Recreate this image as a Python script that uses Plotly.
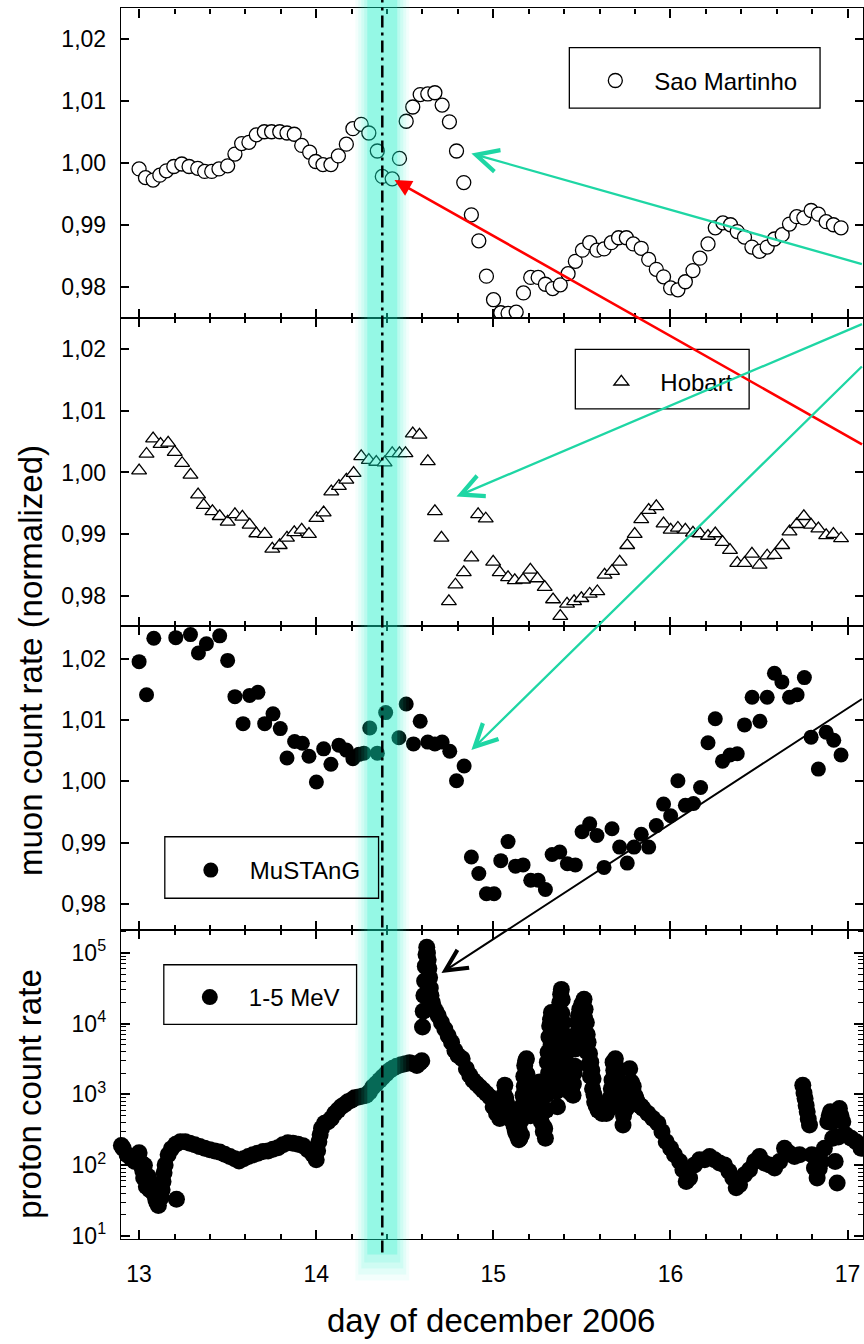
import math
import plotly.graph_objects as go

FONT = "Liberation Sans, Arial, Helvetica, sans-serif"

# ---------------- data ----------------
# Sao Martinho muon monitor, normalized hourly count rate
sao_day = [13.000, 13.036, 13.079, 13.117, 13.154, 13.196, 13.241, 13.282, 13.331, 13.370,
           13.410, 13.451, 13.500, 13.541, 13.579, 13.620, 13.662, 13.707, 13.748, 13.794,
           13.835, 13.876, 13.918, 13.963, 13.997, 14.038, 14.083, 14.125, 14.170, 14.207,
           14.254, 14.297, 14.345, 14.373, 14.429, 14.470, 14.508, 14.545, 14.587, 14.630,
           14.670, 14.711, 14.752, 14.792, 14.833, 14.876, 14.918, 14.961, 15.001, 15.042,
           15.083, 15.129, 15.170, 15.211, 15.253, 15.294, 15.335, 15.378, 15.422, 15.463,
           15.503, 15.544, 15.585, 15.625, 15.666, 15.707, 15.751, 15.790, 15.835, 15.877,
           15.920, 15.961, 16.001, 16.042, 16.084, 16.127, 16.166, 16.212, 16.253, 16.296,
           16.339, 16.377, 16.418, 16.460, 16.503, 16.546, 16.587, 16.631, 16.672, 16.713,
           16.753, 16.794, 16.835, 16.879, 16.920, 16.963]
sao_rate = [0.9990, 0.9976, 0.9972, 0.9980, 0.9987, 0.9994, 0.9998, 0.9994, 0.9991, 0.9986,
            0.9986, 0.9990, 0.9995, 1.0014, 1.0031, 1.0033, 1.0045, 1.0050, 1.0050, 1.0050,
            1.0048, 1.0046, 1.0028, 1.0017, 1.0002, 0.9997, 0.9997, 1.0011, 1.0030, 1.0055,
            1.0062, 1.0048, 1.0019, 0.9978, 0.9974, 1.0007, 1.0067, 1.0090, 1.0110, 1.0111,
            1.0113, 1.0093, 1.0066, 1.0019, 0.9968, 0.9916, 0.9874, 0.9817, 0.9779, 0.9758,
            0.9757, 0.9759, 0.9790, 0.9815, 0.9815, 0.9804, 0.9797, 0.9803, 0.9821, 0.9841,
            0.9859, 0.9871, 0.9859, 0.9861, 0.9871, 0.9879, 0.9879, 0.9869, 0.9862, 0.9844,
            0.9828, 0.9816, 0.9798, 0.9795, 0.9808, 0.9826, 0.9846, 0.9869, 0.9895, 0.9903,
            0.9900, 0.9889, 0.9880, 0.9864, 0.9857, 0.9864, 0.9877, 0.9884, 0.9901, 0.9913,
            0.9911, 0.9923, 0.9917, 0.9905, 0.9900, 0.9895]

# Hobart muon telescope
hob_day = [13.000, 13.042, 13.079, 13.121, 13.164, 13.201, 13.243, 13.290, 13.333, 13.365,
           13.414, 13.455, 13.500, 13.541, 13.583, 13.624, 13.662, 13.709, 13.752, 13.794,
           13.835, 13.876, 13.918, 13.959, 14.001, 14.042, 14.085, 14.128, 14.170, 14.211,
           14.254, 14.297, 14.339, 14.386, 14.429, 14.470, 14.504, 14.545, 14.583, 14.630,
           14.670, 14.707, 14.749, 14.786, 14.833, 14.876, 14.914, 14.957, 14.999, 15.036,
           15.083, 15.121, 15.168, 15.209, 15.249, 15.290, 15.337, 15.378, 15.416, 15.456,
           15.497, 15.544, 15.587, 15.628, 15.670, 15.713, 15.756, 15.798, 15.835, 15.877,
           15.920, 15.961, 16.001, 16.042, 16.084, 16.127, 16.166, 16.212, 16.253, 16.294,
           16.336, 16.377, 16.418, 16.460, 16.503, 16.546, 16.587, 16.631, 16.672, 16.713,
           16.753, 16.794, 16.835, 16.879, 16.920, 16.963]
hob_rate = [1.0003, 1.0030, 1.0055, 1.0046, 1.0048, 1.0033, 1.0015, 0.9996, 0.9964, 0.9947,
            0.9937, 0.9929, 0.9920, 0.9932, 0.9928, 0.9915, 0.9901, 0.9900, 0.9876, 0.9882,
            0.9894, 0.9903, 0.9907, 0.9900, 0.9926, 0.9935, 0.9969, 0.9978, 0.9988, 0.9999,
            1.0026, 1.0020, 1.0017, 1.0016, 1.0031, 1.0031, 1.0031, 1.0063, 1.0061, 1.0018,
            0.9937, 0.9894, 0.9791, 0.9818, 0.9838, 0.9862, 0.9932, 0.9925, 0.9855, 0.9838,
            0.9830, 0.9825, 0.9826, 0.9842, 0.9828, 0.9814, 0.9794, 0.9767, 0.9787, 0.9791,
            0.9796, 0.9803, 0.9807, 0.9834, 0.9840, 0.9855, 0.9882, 0.9900, 0.9924, 0.9939,
            0.9945, 0.9917, 0.9907, 0.9910, 0.9907, 0.9902, 0.9901, 0.9897, 0.9901, 0.9887,
            0.9874, 0.9853, 0.9853, 0.9868, 0.9850, 0.9865, 0.9866, 0.9882, 0.9904, 0.9916,
            0.9929, 0.9915, 0.9909, 0.9898, 0.9900, 0.9893]

# MuSTAnG muon telescope
mus_day = [13.000, 13.042, 13.083, 13.207, 13.290, 13.335, 13.380, 13.455, 13.500, 13.541,
           13.587, 13.624, 13.671, 13.709, 13.756, 13.797, 13.835, 13.878, 13.922, 13.959,
           14.001, 14.042, 14.083, 14.128, 14.170, 14.207, 14.241, 14.269, 14.302, 14.345,
           14.392, 14.467, 14.508, 14.549, 14.587, 14.630, 14.670, 14.711, 14.754, 14.792,
           14.835, 14.876, 14.918, 14.961, 15.004, 15.042, 15.083, 15.125, 15.168, 15.211,
           15.253, 15.294, 15.332, 15.375, 15.418, 15.463, 15.501, 15.544, 15.585, 15.625,
           15.670, 15.713, 15.756, 15.794, 15.835, 15.877, 15.920, 15.961, 16.001, 16.042,
           16.084, 16.130, 16.170, 16.212, 16.253, 16.294, 16.336, 16.377, 16.418, 16.461,
           16.505, 16.546, 16.587, 16.629, 16.672, 16.715, 16.756, 16.794, 16.835, 16.879,
           16.922, 16.963]
mus_rate = [1.0195, 1.0141, 1.0233, 1.0234, 1.0239, 1.0209, 1.0224, 1.0237, 1.0197, 1.0138,
            1.0094, 1.0140, 1.0145, 1.0094, 1.0110, 1.0086, 1.0038, 1.0065, 1.0062, 1.0041,
            0.9999, 1.0053, 1.0028, 1.0059, 1.0051, 1.0037, 1.0044, 1.0046, 1.0087, 1.0046,
            1.0112, 1.0071, 1.0126, 1.0061, 1.0098, 1.0064, 1.0061, 1.0064, 1.0049, 1.0001,
            1.0025, 0.9877, 0.9850, 0.9817, 0.9817, 0.9871, 0.9902, 0.9862, 0.9864, 0.9839,
            0.9839, 0.9824, 0.9881, 0.9885, 0.9866, 0.9864, 0.9918, 0.9931, 0.9912, 0.9860,
            0.9923, 0.9893, 0.9867, 0.9893, 0.9914, 0.9893, 0.9928, 0.9963, 0.9944, 1.0001,
            0.9961, 0.9964, 0.9990, 1.0063, 1.0102, 1.0033, 1.0043, 1.0045, 1.0092, 1.0137,
            1.0098, 1.0137, 1.0176, 1.0162, 1.0137, 1.0141, 1.0169, 1.0072, 1.0020, 1.0080,
            1.0067, 1.0043]

# 1-5 MeV proton count rate (main trace)
proton_day = [
    12.887, 12.910, 12.932, 12.957, 12.976, 12.994, 13.013, 13.020, 13.026, 13.041,
    13.060, 13.079, 13.094, 13.109, 13.124, 13.130, 13.135, 13.141, 13.147, 13.164,
    13.182, 13.207, 13.211, 13.233, 13.260, 13.286, 13.314, 13.342, 13.370, 13.399,
    13.427, 13.455, 13.483, 13.512, 13.540, 13.564, 13.590, 13.617, 13.643, 13.671,
    13.700, 13.728, 13.756, 13.784, 13.812, 13.840, 13.869, 13.897, 13.925, 13.953,
    13.982, 14.000, 14.008, 14.015, 14.022, 14.030, 14.047, 14.066, 14.085, 14.104,
    14.123, 14.141, 14.160, 14.179, 14.198, 14.217, 14.241, 14.264, 14.282, 14.301,
    14.320, 14.339, 14.358, 14.376, 14.395, 14.414, 14.433, 14.455, 14.480, 14.504,
    14.527, 14.549, 14.568, 14.585, 14.596, 14.600, 14.604, 14.608, 14.612, 14.616,
    14.620, 14.624, 14.628, 14.632, 14.636, 14.640, 14.644, 14.648, 14.655, 14.662,
    14.675, 14.689, 14.707, 14.726, 14.745, 14.764, 14.783, 14.801, 14.824, 14.848,
    14.867, 14.886, 14.905, 14.924, 14.942, 14.961, 14.980, 14.999, 15.018, 15.036,
    15.055, 15.065, 15.070, 15.083, 15.090, 15.102, 15.110, 15.121, 15.130, 15.144,
    15.150, 15.159, 15.163, 15.168, 15.172, 15.177, 15.182, 15.187, 15.191, 15.196,
    15.205, 15.215, 15.222, 15.234, 15.240, 15.249, 15.255, 15.262, 15.266, 15.271,
    15.282, 15.294, 15.300, 15.305, 15.309, 15.314, 15.318, 15.323, 15.328, 15.335,
    15.343, 15.350, 15.356, 15.362, 15.366, 15.370, 15.375, 15.380, 15.384, 15.389,
    15.394, 15.398, 15.403, 15.410, 15.418, 15.431, 15.440, 15.450, 15.456, 15.463,
    15.468, 15.474, 15.481, 15.488, 15.500, 15.512, 15.518, 15.525, 15.530, 15.535,
    15.543, 15.550, 15.556, 15.563, 15.572, 15.591, 15.614, 15.638, 15.657, 15.666,
    15.676, 15.689, 15.697, 15.704, 15.715, 15.732, 15.751, 15.760, 15.770, 15.779,
    15.798, 15.817, 15.845, 15.873, 15.901, 15.929, 15.952, 15.976, 16.001, 16.023,
    16.052, 16.070, 16.089, 16.108, 16.136, 16.164, 16.193, 16.221, 16.249, 16.277,
    16.305, 16.330, 16.352, 16.371, 16.390, 16.418, 16.446, 16.475, 16.503, 16.531,
    16.559, 16.588, 16.616, 16.644, 16.672, 16.700, 16.729, 16.747, 16.754, 16.760,
    16.766, 16.772, 16.778, 16.785, 16.798, 16.813, 16.828, 16.840, 16.851, 16.869,
    16.888, 16.896, 16.903, 16.910, 16.916, 16.930, 16.941, 16.948, 16.954, 16.963,
    16.973, 16.992, 17.020, 17.048, 17.076]
proton_rate = [
    215, 174, 140, 123, 113, 123, 107, 85, 66, 50,
    45, 41, 33, 27, 35, 45, 59, 78, 101, 140,
    170, 198, 33, 215, 215, 204, 194, 183, 174, 165,
    159, 153, 143, 133, 123, 115, 123, 133, 140, 148,
    156, 159, 168, 177, 194, 208, 204, 198, 189, 165,
    140, 119, 160, 215, 270, 332, 390, 411, 458, 539,
    600, 668, 719, 785, 828, 894, 923, 953, 973, 1080,
    1270, 1420, 1580, 1760, 1960, 2180, 2350, 2510, 2620, 2710,
    2800, 2710, 2570, 2800, 3000, 9000, 15000, 25000, 40000, 65000,
    95000, 120000, 100000, 80000, 60000, 45000, 32000, 25000, 20000, 17000,
    15000, 12900, 10400, 8400, 6770, 5460, 4170, 3550, 3190, 2300,
    1860, 1580, 1420, 1270, 1150, 1030, 923, 668, 539, 458,
    743, 1350, 900, 668, 560, 511, 420, 332, 280, 228,
    240, 267, 500, 973, 1800, 2570, 3000, 3190, 1900, 1210,
    800, 633, 700, 1080, 900, 1350, 1200, 1500, 700, 411,
    300, 240, 1500, 2860, 3950, 6500, 9360, 11500, 14400, 9000,
    6080, 1670, 1100, 668, 2500, 8000, 19900, 26000, 30500, 22000,
    10400, 7000, 4400, 3000, 2070, 1080, 1100, 973, 2000, 4400,
    7000, 10400, 13000, 16000, 19000, 22100, 16000, 10400, 7000, 5460,
    3800, 2860, 2200, 1670, 785, 600, 539, 539, 633, 1200,
    2860, 3190, 2400, 1670, 785, 369, 633, 1100, 2300, 1500,
    973, 743, 633, 539, 458, 390, 298, 215, 174, 140,
    113, 86, 59, 66, 101, 119, 119, 133, 119, 107,
    101, 82, 66, 48, 53, 73, 86, 113, 133, 107,
    101, 91, 113, 174, 148, 133, 140, 1350, 1050, 875,
    700, 568, 450, 369, 140, 91, 66, 90, 113, 174,
    411, 500, 568, 400, 240, 113, 56, 250, 633, 500,
    411, 267, 240, 215, 174]

# further proton samples inside the noisy stretch of 15-16 December
proton_day_scatter = [
    12.900, 13.000, 13.030, 13.050, 13.070, 13.100,
    15.045, 15.060, 15.075, 15.095, 15.115, 15.125, 15.138, 15.145, 15.155, 15.165,
    15.175, 15.185, 15.195, 15.200, 15.210, 15.220, 15.228, 15.236, 15.245, 15.258,
    15.268, 15.275, 15.285, 15.290, 15.298, 15.302, 15.312, 15.320, 15.326, 15.332,
    15.338, 15.345, 15.352, 15.358, 15.368, 15.374, 15.386, 15.392, 15.400, 15.406,
    15.414, 15.422, 15.428, 15.436, 15.445, 15.452, 15.460, 15.470, 15.478, 15.485,
    15.493, 15.505, 15.515, 15.522, 15.528, 15.538, 15.548, 15.560, 15.568, 15.580,
    15.600, 15.620, 15.640, 15.660, 15.670, 15.680, 15.690, 15.700, 15.710, 15.720,
    15.735, 15.745, 15.755, 15.765, 15.775, 15.785, 15.790, 15.805, 15.810, 15.825,
    15.835]
proton_rate_scatter = [
    190, 150, 100, 70, 55, 30,
    600, 1000, 750, 450, 380, 300, 250, 330, 420, 700,
    1300, 2000, 900, 600, 500, 900, 1300, 800, 600, 900,
    1000, 550, 350, 330, 600, 1000, 2000, 3000, 5000, 4000,
    3000, 2500, 3000, 2000, 4500, 12000, 14000, 5500, 2500, 1700,
    1400, 1800, 2500, 1600, 1300, 1400, 2500, 4500, 6000, 9000,
    12000, 14000, 12000, 6000, 4000, 2600, 1800, 1200, 1000, 700,
    750, 680, 620, 900, 1600, 2200, 1900, 1300, 1100, 650,
    500, 700, 900, 1400, 1200, 1000, 1300, 900, 800, 700,
    680]
assert len(proton_day) == len(proton_rate)
assert len(proton_day_scatter) == len(proton_rate_scatter)

x_ticks = [13, 14, 15, 16, 17]
log_ticks = [1e1, 1e2, 1e3, 1e4, 1e5]
log_tick_text = ["10<sup>1</sup>", "10<sup>2</sup>", "10<sup>3</sup>",
                 "10<sup>4</sup>", "10<sup>5</sup>"]

EVENT_DAY = 14.373          # time marked by the shaded band and dash-dot line

# ---------------- page geometry (pixels) ----------------
W, H = 864, 1344
PLOT_LEFT = 121
X_RANGE = [12.897, 17.087]
DAY_PER_PX = (X_RANGE[1] - X_RANGE[0]) / (W - PLOT_LEFT)


def fy(py):
    """pixel row (from top) -> paper fraction"""
    return 1 - py / H


panel_px = [(8.5, 320.7), (320.7, 630.7), (630.7, 937.0), (937.0, 1248.5)]
domains = [[fy(b), fy(t)] for t, b in panel_px]

fig = go.Figure()

fig.add_trace(go.Scatter(
    x=sao_day, y=sao_rate, mode="markers", name="Sao Martinho",
    marker=dict(symbol="circle", size=14, color="white",
                line=dict(color="black", width=1.3)),
    xaxis="x", yaxis="y", legend="legend"))
fig.add_trace(go.Scatter(
    x=hob_day, y=hob_rate, mode="markers", name="Hobart",
    marker=dict(symbol="triangle-up", size=13, color="white",
                line=dict(color="black", width=1.3)),
    xaxis="x2", yaxis="y2", legend="legend2"))
fig.add_trace(go.Scatter(
    x=mus_day, y=mus_rate, mode="markers", name="MuSTAnG",
    marker=dict(symbol="circle", size=15, color="black"),
    xaxis="x3", yaxis="y3", legend="legend3"))
fig.add_trace(go.Scatter(
    x=proton_day + proton_day_scatter, y=proton_rate + proton_rate_scatter,
    mode="markers", name="1-5 MeV",
    marker=dict(symbol="circle", size=17, color="black"),
    cliponaxis=False,
    xaxis="x4", yaxis="y4", legend="legend4"))

tick_font = dict(family=FONT, size=23, color="black")
axis_line = dict(showline=True, linecolor="black", linewidth=1.3, mirror="ticks",
                 ticks="inside", tickwidth=1.5, tickcolor="black",
                 showgrid=False, zeroline=False)

for i in range(4):
    sfx = "" if i == 0 else str(i + 1)
    fig.update_layout({
        "xaxis" + sfx: dict(
            axis_line, domain=[PLOT_LEFT / W, 1.0], range=X_RANGE, anchor="y" + sfx,
            tickmode="array", tickvals=x_ticks, ticklen=9,
            minor=dict(dtick=0.2, tick0=13, ticks="inside", ticklen=5,
                       tickwidth=1.5, tickcolor="black", showgrid=False),
            showticklabels=(i == 3), tickfont=tick_font, ticklabelstandoff=14),
    })

y_ranges = [[0.9749, 1.0249], [0.9751, 1.0250], [0.9758, 1.0253]]
for i in range(3):
    sfx = "" if i == 0 else str(i + 1)
    fig.update_layout({
        "yaxis" + sfx: dict(
            axis_line, domain=domains[i], range=y_ranges[i], anchor="x" + sfx,
            dtick=0.01, tick0=0.98, ticklen=8, tickformat=".2f",
            tickfont=tick_font, ticklabelstandoff=9),
    })

minor_log = [k * 10 ** d for d in range(1, 6) for k in range(2, 10)]
fig.update_layout(yaxis4=dict(
    axis_line, domain=domains[3], type="log", range=[0.954, 5.323], anchor="x4",
    tickmode="array", tickvals=log_ticks, ticktext=log_tick_text, ticklen=9,
    minor=dict(tickmode="array", tickvals=minor_log, ticks="inside", ticklen=5,
               tickwidth=1.2, tickcolor="black", showgrid=False),
    tickfont=tick_font, ticklabelstandoff=9))

# ---------------- event band and marker line ----------------
shapes = []
band_layers = [(27, 0.05, 1290), (24, 0.07, 1284), (21, 0.09, 1278),
               (18, 0.11, 1272), (15, 0.22, 1264)]
for half_px, alpha, bottom_px in band_layers:
    shapes.append(dict(
        type="rect", xref="x4", yref="paper",
        x0=EVENT_DAY - half_px * DAY_PER_PX, x1=EVENT_DAY + half_px * DAY_PER_PX,
        y0=fy(bottom_px), y1=1.0,
        fillcolor=f"rgba(20,240,200,{alpha})", line=dict(width=0), layer="above"))
shapes.append(dict(
    type="line", xref="x4", yref="paper", x0=EVENT_DAY, x1=EVENT_DAY,
    y0=fy(1262), y1=1.0, line=dict(color="black", width=2.5, dash="12px,5px,3px,5px"),
    layer="above"))

# ---------------- legends (one boxed legend per panel) ----------------
legend_frames = {
    "legend": (570, 48, 821, 109),
    "legend2": (576, 352, 750, 412),
    "legend3": (165, 843, 379, 905),
    "legend4": (164, 972, 357, 1032),
}
for key, (x0, y0, x1, y1) in legend_frames.items():
    shapes.append(dict(type="rect", xref="paper", yref="paper",
                       x0=x0 / W, x1=x1 / W, y0=fy(y1), y1=fy(y0),
                       line=dict(color="black", width=1.3),
                       fillcolor="rgba(0,0,0,0)", layer="above"))
    fig.update_layout({key: dict(
        x=(x0 + 7) / W, y=fy((y0 + y1) / 2 + 3), xanchor="left", yanchor="middle",
        bgcolor="rgba(0,0,0,0)", borderwidth=0, itemwidth=68,
        font=dict(family=FONT, size=24, color="black"))})

fig.update_layout(shapes=shapes)

# ---------------- arrows ----------------
CYAN = "rgb(30,214,164)"
arrow_specs = [
    # (xref, yref, tip x, tip y, tail dx px, tail dy px, colour, width, head, size)
    ("x", "y", 14.442, 0.9972, 469, 265, "red", 2.6, 2, 1.3),
    ("x", "y", 14.876, 1.0015, 392, 111, CYAN, 2.3, 5, 1.9),
    ("x2", "y2", 14.792, 0.9961, 407, -173, CYAN, 2.3, 5, 1.9),
    ("x3", "y3", 14.876, 1.0051, 392, -385, CYAN, 2.3, 5, 1.9),
    ("x4", "y4", 14.707, math.log10(52000), 422, -275, "black", 2.0, 5, 2.1),
]
annotations = []
for xr, yr, xt, yt, dx, dy, col, wid, head, size in arrow_specs:
    annotations.append(dict(
        xref=xr, yref=yr, x=xt, y=yt, ax=dx, ay=dy, text="", showarrow=True,
        arrowcolor=col, arrowwidth=wid, arrowhead=head, arrowsize=size, standoff=0))

title_font = dict(family=FONT, size=33, color="black")
annotations += [
    dict(xref="paper", yref="paper", x=30 / W, y=fy(665), text="muon count rate (normalized)",
         textangle=-90, showarrow=False, font=title_font, xanchor="center", yanchor="middle"),
    dict(xref="paper", yref="paper", x=30 / W, y=fy(1102), text="proton count rate",
         textangle=-90, showarrow=False, font=title_font, xanchor="center", yanchor="middle"),
    dict(xref="paper", yref="paper", x=492 / W, y=fy(1330), text="day of december 2006",
         showarrow=False, font=title_font, xanchor="center", yanchor="middle"),
]

fig.update_layout(
    annotations=annotations,
    showlegend=True,
    width=W, height=H,
    margin=dict(l=0, r=0, t=0, b=0),
    paper_bgcolor="white", plot_bgcolor="white",
    separators=",.",
    font=dict(family=FONT, color="black"),
    hovermode=False,
)

fig.write_html("out.html")
